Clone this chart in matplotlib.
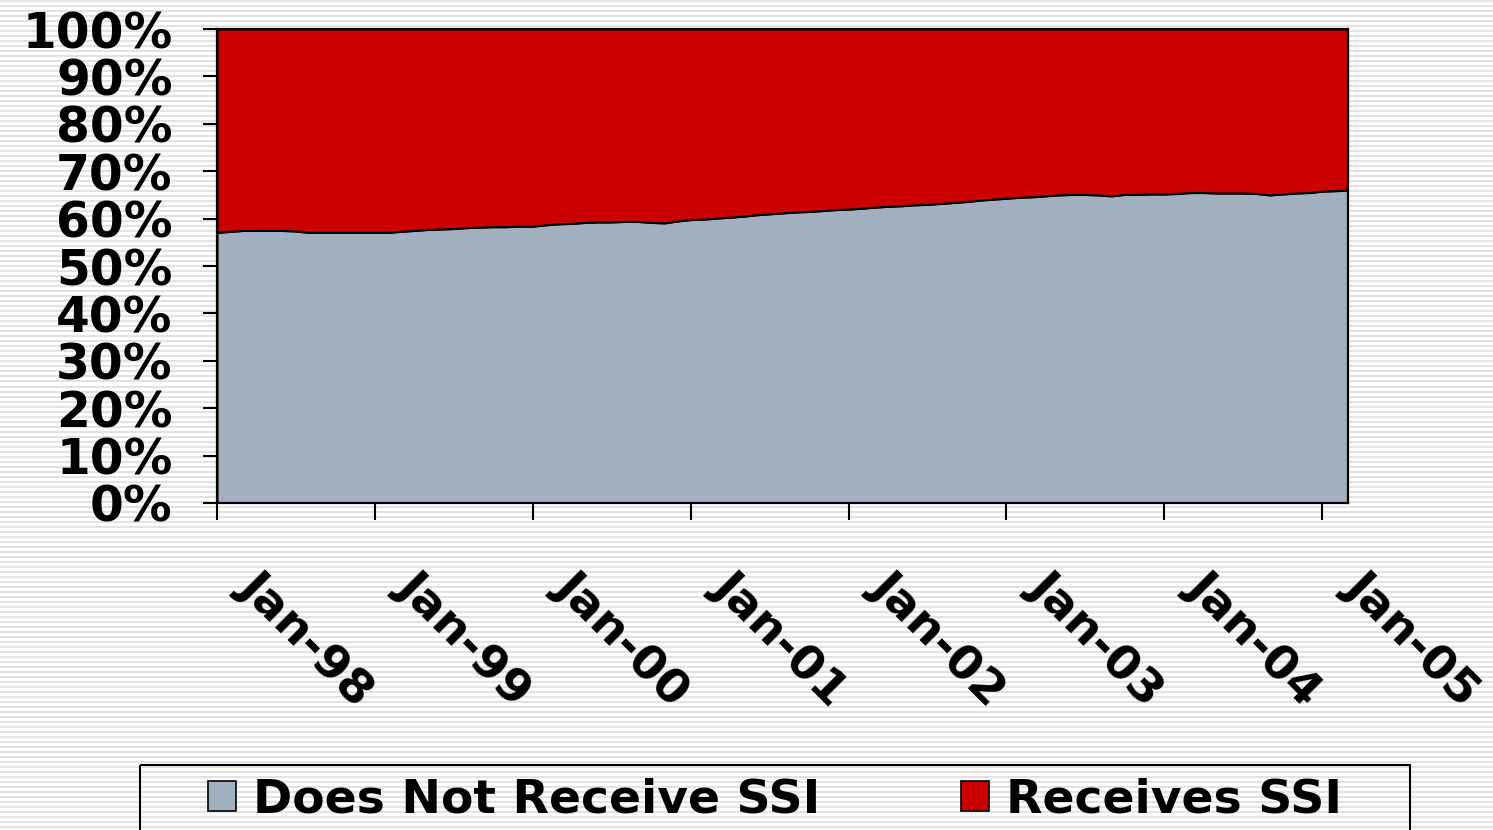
import numpy as np
import pandas as pd
import matplotlib
matplotlib.use('Agg')
import matplotlib.pyplot as plt
import matplotlib.dates as mdates
import matplotlib.transforms as mtransforms
from matplotlib.patches import Rectangle, Patch

# Monthly share of caseload (percent), Jan 1998 .. Mar 2005
months = pd.date_range('1998-01-01', periods=87, freq='MS')

does_not_receive_ssi = [
    57.1, 57.3, 57.5, 57.5, 57.5, 57.5, 57.4, 57.1, 57.1, 57.1, 57.1, 57.1,  # 1998
    57.1, 57.1, 57.3, 57.5, 57.7, 57.8, 57.9, 58.1, 58.2, 58.3, 58.3, 58.4,  # 1999
    58.4, 58.7, 58.9, 59.0, 59.2, 59.3, 59.3, 59.4, 59.4, 59.2, 59.1, 59.5,  # 2000
    59.8, 59.9, 60.1, 60.3, 60.5, 60.8, 61.0, 61.2, 61.4, 61.5, 61.7, 61.9,  # 2001
    62.0, 62.2, 62.4, 62.6, 62.7, 62.9, 63.0, 63.2, 63.4, 63.6, 63.9, 64.1,  # 2002
    64.3, 64.5, 64.6, 64.8, 65.0, 65.1, 65.1, 65.0, 64.8, 65.1, 65.1, 65.2,  # 2003
    65.2, 65.3, 65.5, 65.5, 65.4, 65.4, 65.4, 65.3, 65.0, 65.2, 65.4, 65.5,  # 2004
    65.8, 65.9, 66.0,                                                        # 2005
]
receives_ssi = [
    42.9, 42.7, 42.5, 42.5, 42.5, 42.5, 42.6, 42.9, 42.9, 42.9, 42.9, 42.9,
    42.9, 42.9, 42.7, 42.5, 42.3, 42.2, 42.1, 41.9, 41.8, 41.7, 41.7, 41.6,
    41.6, 41.3, 41.1, 41.0, 40.8, 40.7, 40.7, 40.6, 40.6, 40.8, 40.9, 40.5,
    40.2, 40.1, 39.9, 39.7, 39.5, 39.2, 39.0, 38.8, 38.6, 38.5, 38.3, 38.1,
    38.0, 37.8, 37.6, 37.4, 37.3, 37.1, 37.0, 36.8, 36.6, 36.4, 36.1, 35.9,
    35.7, 35.5, 35.4, 35.2, 35.0, 34.9, 34.9, 35.0, 35.2, 34.9, 34.9, 34.8,
    34.8, 34.7, 34.5, 34.5, 34.6, 34.6, 34.6, 34.7, 35.0, 34.8, 34.6, 34.5,
    34.2, 34.1, 34.0,
]
series_labels = ['Does Not Receive SSI', 'Receives SSI']
series_colors = ['#a2b0bf', '#cc0000']
year_ticks = pd.date_range('1998-01-01', '2005-01-01', freq='YS')

plt.rcParams['font.family'] = ['DejaVu Sans']
plt.rcParams['font.weight'] = 'bold'

W, H = 1493, 830
fig = plt.figure(figsize=(W / 100, H / 100), dpi=100)

# striped slide background
bg = fig.add_axes([0, 0, 1, 1], zorder=-10)
bg.set_xlim(0, W)
bg.set_ylim(H, 0)
bg.axis('off')
bg.hlines(np.arange(1.5, H, 5), 0, W, color='#e2e2e2', lw=1.5, zorder=1)

ax = fig.add_axes([217 / W, (H - 503) / H, (1348 - 217) / W, (503 - 29) / H])
ax.set_facecolor('none')
ax.stackplot(months, does_not_receive_ssi, receives_ssi,
             colors=series_colors, edgecolor='black', linewidth=1.5)

ax.set_xlim(months[0], months[-1])
ax.set_ylim(0, 100)
ax.set_yticks(range(0, 101, 10))
ax.set_yticklabels([f'{v}%' for v in range(0, 101, 10)])
ax.set_xticks(year_ticks)
ax.xaxis.set_major_formatter(mdates.DateFormatter('%b-%y'))

for sp in ax.spines.values():
    sp.set_linewidth(1.6)
    sp.set_color('black')
ax.tick_params(axis='y', length=10, width=1.5, pad=22, labelsize=35, direction='out')
ax.tick_params(axis='x', length=12, width=1.5, pad=43, labelsize=34, direction='out')

shift = mtransforms.ScaledTranslation(0.30, 0, fig.dpi_scale_trans)
for lab in ax.get_xticklabels():
    lab.set_rotation(-45)
    lab.set_rotation_mode('anchor')
    lab.set_ha('left')
    lab.set_va('center')
    lab.set_transform(lab.get_transform() + shift)

# legend box (runs off the bottom of the slide)
bg.add_patch(Rectangle((140, 765), 1270, 120, fill=False, edgecolor='black',
                       lw=1.5, zorder=5))
handles = [Patch(facecolor=c, edgecolor='black', lw=1.2) for c in series_colors]
fig.legend(handles, series_labels, loc='center left', ncol=2, mode='expand',
           bbox_to_anchor=(208 / W, (H - 800) / H, (1342 - 208) / W, 0),
           frameon=False, fontsize=34, handlelength=0.6, handleheight=0.6,
           handletextpad=0.35, borderpad=0, borderaxespad=0)

fig.savefig('out.png', dpi=100)
